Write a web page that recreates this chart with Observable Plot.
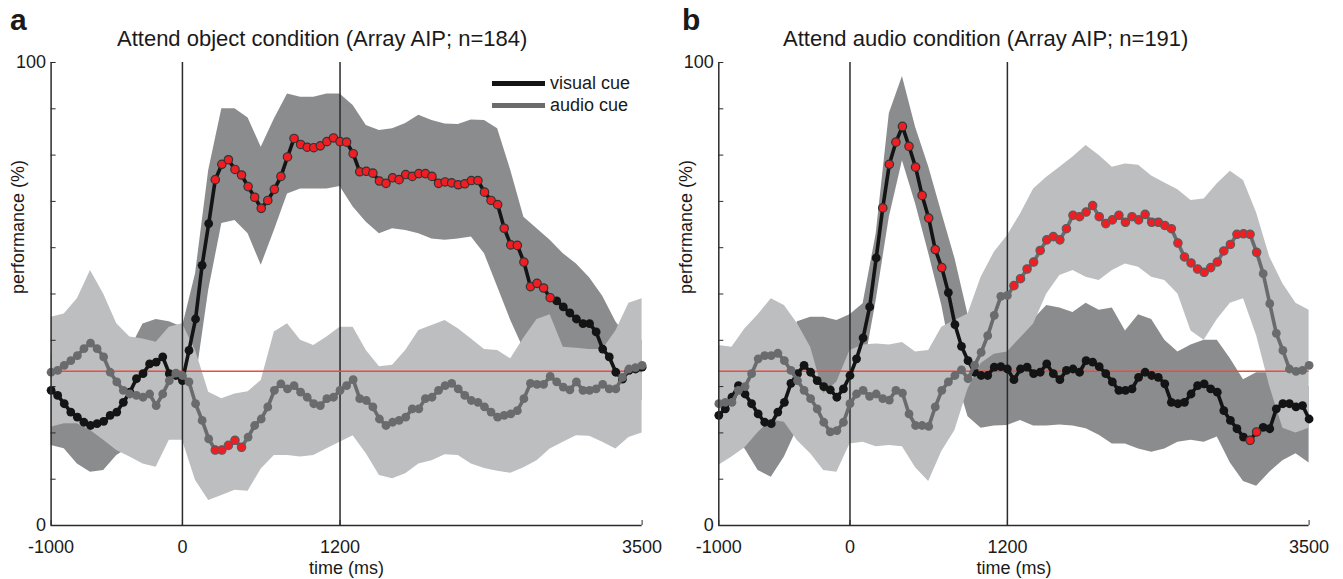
<!DOCTYPE html>
<html><head><meta charset="utf-8">
<script src="https://cdn.jsdelivr.net/npm/d3@7"></script>
<script src="https://cdn.jsdelivr.net/npm/@observablehq/plot@0.6"></script>
<style>
body{margin:0;background:#fff;font-family:"Liberation Sans",Arial,sans-serif;}
#root{position:relative;width:1343px;height:579px;overflow:hidden;background:#fff;}
.panel{position:absolute;top:0;}
.lbl{position:absolute;white-space:nowrap;color:#1a1a1a;line-height:1;}
.sw{position:absolute;height:5px;}
</style></head><body><div id="root"></div>
<script>
// ---- sample grids ----
const time = d3.range(-1000, 3501, 50);       // sample times (ms)
const bandTime = d3.range(-1000, 3501, 100);  // band edge sample times (ms)
const xTicks = [-1000, 0, 1200, 3500];
const yTicks = [0, 10, 20, 30, 40, 50, 60, 70, 80, 90, 100];
const yTickLabels = [0, 100];
const eventTimes = [0, 1200];
const chance = 33.3;
const xLabel = "time (ms)";
const yLabel = "performance (%)";
const titles = ["Attend object condition (Array AIP; n=184)", "Attend audio condition (Array AIP; n=191)"];
const letters = ["a", "b"];
const seriesNames = ["visual cue", "audio cue"];

// ---- panel a: attend object ----
const visA = [
  29.2, 28.1, 26.3, 24.5, 23.4, 22.3, 21.6, 22.0, 22.5, 23.8,
  24.5, 26.6, 28.8, 31.7, 32.8, 34.9, 35.3, 36.4, 32.8, 32.4,
  31.3, 37.8, 44.6, 56.2, 65.2, 74.7, 78.0, 79.0, 76.9, 75.7,
  73.2, 70.9, 68.5, 70.2, 72.6, 75.4, 79.6, 83.6, 82.3, 81.7,
  81.6, 82.0, 82.9, 83.7, 82.9, 82.8, 80.3, 76.4, 76.5, 76.1,
  74.4, 73.9, 75.1, 74.7, 75.8, 75.4, 76.0, 76.0, 75.4, 73.9,
  74.2, 74.0, 73.6, 73.8, 74.5, 74.5, 72.0, 70.2, 69.3, 64.2,
  60.6, 60.5, 56.9, 51.6, 52.3, 51.3, 49.2, 48.5, 47.2, 45.9,
  44.6, 43.6, 43.6, 41.8, 38.1, 36.4, 33.1, 31.6, 33.5, 33.8,
  34.2];
const audA = [
  33.1, 33.5, 34.6, 35.6, 36.7, 38.2, 39.4, 38.2, 36.4, 33.1,
  31.0, 29.2, 28.4, 28.1, 27.7, 28.4, 25.9, 28.4, 31.3, 32.9,
  32.4, 31.0, 26.3, 22.7, 18.7, 16.3, 16.3, 17.3, 18.4, 16.9,
  19.1, 21.6, 23.0, 25.6, 29.2, 30.6, 29.5, 30.2, 28.8, 27.7,
  26.3, 25.9, 27.4, 27.7, 29.2, 30.2, 31.5, 27.4, 27.0, 25.6,
  23.0, 21.6, 22.3, 22.7, 23.4, 25.2, 25.2, 27.4, 27.7, 29.2,
  30.2, 30.7, 29.5, 28.1, 27.0, 26.6, 25.6, 24.5, 23.4, 23.8,
  24.1, 24.8, 27.4, 30.7, 30.5, 30.5, 32.2, 31.0, 29.9, 29.3,
  31.0, 29.2, 29.2, 29.5, 30.5, 29.5, 29.5, 32.0, 33.8, 34.1,
  34.6];
const sigVisA = [[250, 2800]];
const sigAudA = [[250, 450]];
const darkHiA = [37, 34, 31, 30, 31, 33, 38, 43.5, 44.5, 44,
  42.8, 54.4, 76.7, 90, 90, 88, 81.7, 87.8, 93.2, 92.5,
  92.5, 93.2, 93.2, 90.7, 86.4, 85.3, 85.7, 86.8, 88.6, 87.5,
  86.7, 86.6, 87.6, 87.5, 85.7, 76.7, 66.6, 64.1, 61.6, 58.7,
  56.5, 53.5, 49.5, 44, 40, 40];
const darkLoA = [17.3, 16.6, 13.3, 11.5, 11.9, 15.1, 16.9, 17.6, 19.1, 21.2,
  22.7, 31, 50.8, 65.2, 65.9, 63, 56.2, 63.7, 71.6, 72.7,
  72.7, 72.7, 73.2, 68.8, 65.5, 63, 64.1, 63.7, 63, 61.9,
  61.6, 61.9, 62.3, 58.7, 51.5, 44.3, 38, 37, 36, 35,
  34, 33, 31, 28, 27, 27];
const lightHiA = [45, 45.7, 49, 55.1, 50, 43.6, 40.7, 40.3, 39.6, 42.8,
  43.6, 37.8, 28.8, 27.4, 28.4, 28.9, 31.3, 41.8, 43.6, 40,
  38.9, 40.7, 42.8, 42.8, 37.8, 34.3, 34.6, 37.8, 42.1, 43.2,
  44.3, 42.5, 40.3, 38, 37.8, 36, 40.5, 44.5, 45.5, 38.5,
  38.3, 38, 38, 42, 48, 49];
const lightLoA = [21.2, 22, 22, 20.5, 18.4, 16.2, 14.8, 13.3, 12.6, 18.4,
  18.4, 9.7, 5.4, 6.5, 7.6, 7.4, 12.2, 15.1, 15.1, 14.8,
  15.1, 16.6, 18, 19.4, 15.5, 10.8, 10.1, 11.2, 13.3, 14,
  15.3, 15.1, 13.3, 12.3, 11.7, 11.3, 12.5, 14, 16.5, 18,
  19.4, 19.3, 18, 16.5, 19, 20];

// ---- panel b: attend audio ----
const visB = [
  23.8, 25.2, 27.7, 30.2, 28.4, 26.3, 24.1, 22.3, 22.0, 24.5,
  26.6, 30.7, 32.8, 34.6, 33.1, 31.3, 30.0, 29.3, 27.7, 29.5,
  32.4, 36.0, 40.5, 47.2, 57.8, 68.6, 78.0, 82.8, 86.2, 81.9,
  77.4, 71.3, 66.4, 59.6, 55.7, 50.3, 43.4, 38.7, 35.6, 33.1,
  32.4, 32.4, 34.2, 34.3, 33.8, 31.5, 33.8, 34.2, 32.8, 33.1,
  34.9, 32.8, 31.5, 33.5, 33.8, 33.1, 35.6, 35.3, 34.3, 32.8,
  31.0, 29.2, 29.2, 29.5, 32.0, 33.1, 32.4, 32.0, 30.6, 26.6,
  26.3, 26.6, 28.4, 30.2, 30.6, 29.5, 28.8, 24.8, 22.7, 20.9,
  19.1, 18.4, 20.2, 21.2, 20.9, 25.2, 26.3, 26.3, 25.6, 25.9,
  23.0];
const audB = [
  26.3, 26.6, 26.6, 29.2, 30.0, 32.8, 36.0, 36.7, 36.7, 37.2,
  35.6, 33.5, 31.3, 29.2, 27.4, 25.2, 22.3, 20.2, 20.5, 22.3,
  26.3, 28.4, 29.2, 27.9, 28.4, 27.4, 27.1, 29.2, 28.6, 24.1,
  21.6, 21.6, 21.4, 25.6, 29.2, 31.0, 32.4, 33.6, 31.7, 34.6,
  37.4, 41.0, 45.4, 49.5, 49.7, 51.8, 53.3, 55.4, 56.9, 59.4,
  61.7, 62.4, 61.7, 64.1, 67.0, 66.7, 67.7, 69.1, 66.7, 65.2,
  66.0, 67.0, 65.5, 66.7, 66.0, 67.2, 65.5, 65.5, 64.8, 64.1,
  61.0, 58.0, 56.7, 55.4, 54.7, 55.7, 56.9, 59.3, 60.7, 62.9,
  63.0, 62.9, 59.0, 54.4, 47.9, 41.5, 37.8, 33.8, 33.3, 33.5,
  34.6];
const sigVisB = [[250, 700], [3050, 3100]];
const sigAudB = [[1250, 3100]];
const darkHiB = [36, 38, 38, 36, 35, 38, 44, 45, 45, 44.3,
  45.5, 47.9, 63, 89, 97, 86, 77.5, 67.5, 57.7, 45.5,
  40, 38, 38.5, 41.5, 44.5, 47.5, 47, 46, 48, 46.5,
  47, 42, 45.5, 44.5, 40, 37.5, 39, 40, 40, 36,
  31.5, 33, 33, 31, 30, 30];
const darkLoB = [18, 18, 16.5, 11.9, 10.4, 14.8, 21, 22, 23, 24,
  27, 33, 48.6, 66.6, 78.8, 69.5, 58.8, 47.5, 33, 23.5,
  21, 21.5, 21.6, 22.7, 21.5, 21.5, 21.7, 21.5, 20.9, 19.5,
  17.6, 17.6, 16.5, 15.8, 16.5, 18, 18.4, 18, 19.1, 13.5,
  9.5, 8.5, 11.5, 14, 15.5, 13.5];
const lightHiB = [38.9, 38.5, 42.5, 45.5, 49, 47.5, 43.6, 38.5, 28.5, 31,
  37.8, 39, 39.2, 39, 39.5, 37.5, 37.8, 42.8, 44.3, 45.7,
  53.6, 59, 62.6, 67.3, 72.7, 75.2, 77.4, 79.6, 82.1, 79.9,
  77.4, 78.1, 77.8, 75.5, 74, 72.5, 70.2, 70.5, 73.8, 76.5,
  74.5, 67.5, 58, 52.2, 48, 46.5];
const lightLoB = [13, 14.8, 16.8, 20.1, 22.8, 22.3, 18.3, 15.5, 11.9, 11.5,
  17.6, 18, 17, 17.3, 17, 12.5, 9.5, 16, 20.5, 29.5,
  35, 37, 37.5, 40.5, 43.5, 50, 54, 55.1, 53.6, 52.9,
  55.1, 56.5, 55.8, 53.6, 52.9, 50, 42, 40, 44.5, 48,
  49, 41, 30, 21, 20, 21];

// ---- styles ----
const C = {dark: "#8b8c8e", light: "#bdbec0", black: "#141414", gray: "#6a6b6d",
  red: "#f01e23", redLine: "#ef4a3a", axis: "#2b2b2b"};
const FONT = "'Liberation Sans', Arial, Helvetica, sans-serif";

const inRanges = (t, ranges) => ranges.some(([a, b]) => t >= a && t <= b);
const rows = (vals, sig) => time.map((t, i) => ({t, v: vals[i], sig: inRanges(t, sig)}));
const band = (hi, lo) => bandTime.map((t, i) => ({t, hi: hi[i], lo: lo[i]}));

function panel(p) {
  const rv = rows(p.vis, p.sigVis), ra = rows(p.aud, p.sigAud);
  const seriesMarks = (r, col, outline) => [
    Plot.line(r, {x: "t", y: "v", stroke: col, strokeWidth: 3.6}),
    Plot.dot(r.filter(d => !d.sig), {x: "t", y: "v", r: 4.4, fill: col}),
    Plot.dot(r.filter(d => d.sig), {x: "t", y: "v", r: 4.2, fill: C.red, stroke: outline, strokeWidth: 1.2})
  ];
  return Plot.plot({
    width: p.w, height: 579,
    marginLeft: p.ml, marginRight: p.mr, marginTop: 62, marginBottom: 54,
    x: {domain: [-1000, 3500]},
    y: {domain: [0, 100]},
    style: {fontFamily: FONT, fontSize: "18px", color: "#1a1a1a", background: "transparent", overflow: "visible"},
    marks: [
      Plot.areaY(band(p.darkHi, p.darkLo), {x: "t", y1: "lo", y2: "hi", fill: C.dark}),
      Plot.areaY(band(p.lightHi, p.lightLo), {x: "t", y1: "lo", y2: "hi", fill: C.light}),
      Plot.ruleX(eventTimes, {stroke: C.axis, strokeWidth: 1.5}),
      Plot.ruleY([chance], {stroke: C.redLine, strokeWidth: 1.5}),
      ...seriesMarks(rv, C.black, "#333"),
      ...seriesMarks(ra, C.gray, "#5a5b5d"),
      Plot.ruleX([-1000], {stroke: C.axis, strokeWidth: 1.5}),
      Plot.ruleY([0], {stroke: C.axis, strokeWidth: 1.5}),
      Plot.axisY(yTicks, {tickSize: -5, tickPadding: 10, stroke: C.axis,
        tickFormat: d => yTickLabels.includes(d) ? String(d) : "", label: null}),
      Plot.axisX(xTicks, {tickSize: -5, tickPadding: 20, stroke: C.axis,
        tickFormat: d => String(d), label: null}),
      Plot.text([xLabel], {frameAnchor: "bottom", dy: 48, fontSize: 18}),
      Plot.text([yLabel], {frameAnchor: "left", rotate: -90, dx: -33, fontSize: 18})
    ]
  });
}

const root = document.getElementById("root");
const specs = [
  {left: 0, w: 671, ml: 50.6, mr: 29.4, vis: visA, aud: audA, sigVis: sigVisA, sigAud: sigAudA,
   darkHi: darkHiA, darkLo: darkLoA, lightHi: lightHiA, lightLo: lightLoA},
  {left: 671, w: 672, ml: 47.3, mr: 34.4, vis: visB, aud: audB, sigVis: sigVisB, sigAud: sigAudB,
   darkHi: darkHiB, darkLo: darkLoB, lightHi: lightHiB, lightLo: lightLoB}
];
specs.forEach(s => {
  const svg = panel(s);
  const wrap = document.createElement("div");
  wrap.className = "panel";
  wrap.style.left = s.left + "px";
  wrap.appendChild(svg);
  root.appendChild(wrap);
});

function label(text, left, top, size, weight) {
  const d = document.createElement("div");
  d.className = "lbl";
  d.textContent = text;
  d.style.left = left + "px";
  d.style.top = top + "px";
  d.style.fontSize = size + "px";
  if (weight) d.style.fontWeight = weight;
  root.appendChild(d);
  return d;
}
// panel letters and titles
label(letters[0], 10, 5, 30, "bold");
label(letters[1], 682, 5, 30, "bold");
label(titles[0], 117, 28, 22);
label(titles[1], 783, 28, 22);
// legend (panel a)
[[seriesNames[0], C.black, 83.3], [seriesNames[1], C.gray, 105]].forEach(([name, col, cy]) => {
  const sw = document.createElement("div");
  sw.className = "sw";
  sw.style.left = "492px"; sw.style.width = "53px";
  sw.style.top = (cy - 2.5) + "px";
  sw.style.background = col;
  root.appendChild(sw);
  label(name, 550, cy - 9.5, 18);
});
</script></body></html>
